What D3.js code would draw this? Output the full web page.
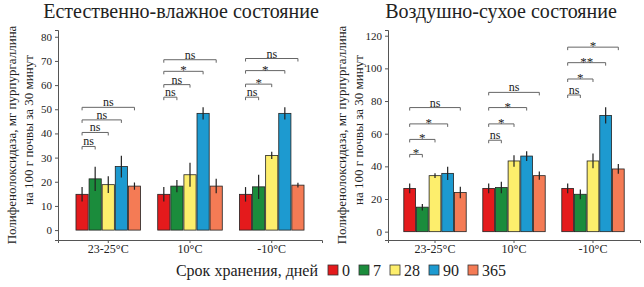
<!DOCTYPE html>
<html>
<head>
<meta charset="utf-8">
<script src="https://cdn.jsdelivr.net/npm/d3@7"></script>
<style>
  body { margin: 0; background: #fff; }
  svg text { fill: #222; }
  .axis path, .axis line { stroke: #555; }
</style>
</head>
<body>
<div id="chart"></div>
<script>
var FONT = "'Liberation Serif', 'Tinos', 'Noto Serif', 'FreeSerif', 'Nimbus Roman', 'DejaVu Serif', 'Liberation Sans'";

// categories
var groups = ["23-25°C", "10°C", "-10°C"];
var days = ["0", "7", "28", "90", "365"];
var colors = ["#e41a1c", "#1b8c3c", "#fdee6c", "#1d9ad0", "#f47b55"];

// естественно-влажное состояние
var wetMeans = [[14.8, 21.2, 18.8, 26.3, 18.2], [14.8, 18.2, 22.9, 48.3, 18.2], [14.8, 17.9, 30.9, 48.3, 18.6]];
var wetErr = [[3, 5, 3.5, 4.5, 1.5], [3, 2.5, 5, 2.5, 3], [3, 5, 1.5, 2.5, 1]];
// brackets: [to-bar, y value, label], always from bar 0
var wetBrackets = [
  [[1, 34.6, "ns"], [2, 40.4, "ns"], [3, 45.6, "ns"], [4, 50.8, "ns"]],
  [[1, 55, "ns"], [2, 60.2, "ns"], [3, 65.7, "*"], [4, 70.5, "ns"]],
  [[1, 55, "ns"], [2, 60.4, "*"], [3, 66, "*"], [4, 71, "ns"]]
];

// воздушно-сухое состояние
var dryMeans = [[26.5, 15, 34.3, 35.7, 24], [26.5, 27, 43.3, 46.3, 34.3], [26.5, 22.9, 43.3, 71.2, 38.4]];
var dryErr = [[3, 2, 1.5, 4, 3.5], [3, 3.5, 3.5, 3, 2.5], [3, 3, 4.5, 5, 3]];
var dryBrackets = [
  [[1, 47.3, "*"], [2, 56.5, "*"], [3, 66, "*"], [4, 76, "ns"]],
  [[1, 56, "ns"], [2, 66, "*"], [3, 76, "*"], [4, 85.3, "ns"]],
  [[1, 83.7, "ns"], [2, 93.5, "*"], [3, 103.5, "**"], [4, 113, "*"]]
];

var wetTicks = [0, 10, 20, 30, 40, 50, 60, 70, 80];
var dryTicks = [0, 20, 40, 60, 80, 100, 120];

var W = 644, H = 287;
var svg = d3.select("#chart").append("svg")
    .attr("width", W)
    .attr("height", H)
    .style("font-family", FONT);

function panel(opt) {
    var x = d3.scaleBand().domain(groups)
        .range([opt.x0, opt.x1])
        .paddingInner(0.21)
        .paddingOuter(opt.po);
    var xi = d3.scaleBand().domain(days)
        .range([0, x.bandwidth()])
        .paddingInner(0.07);
    var y = d3.scaleLinear().domain(opt.yDomain).range([240, 30]);

    var g = svg.append("g");

    // title
    g.append("text")
        .attr("x", opt.titleX)
        .attr("y", 18)
        .attr("text-anchor", "middle")
        .style("font-size", "20px")
        .text(opt.title);

    // y axis label, two lines
    g.append("text")
        .attr("transform", "translate(" + opt.labX + ",135) rotate(-90)")
        .attr("text-anchor", "middle")
        .style("font-size", "13px")
        .text("Полифенолоксидаза, мг пурпургаллина");
    g.append("text")
        .attr("transform", "translate(" + (opt.labX + 17) + ",130) rotate(-90)")
        .attr("text-anchor", "middle")
        .style("font-size", "13px")
        .text("на 100 г почвы за 30 минут");

    // axes
    var ya = g.append("g")
        .attr("class", "axis")
        .attr("transform", "translate(" + opt.x0 + ",0)")
        .call(d3.axisLeft(y).tickValues(opt.ticks).tickSizeOuter(0).tickSize(3));
    ya.attr("font-family", null);
    ya.selectAll("text")
        .style("font-size", "11px")
        .attr("fill", "#333");

    var xa = g.append("g")
        .attr("class", "axis")
        .attr("transform", "translate(0,240)")
        .call(d3.axisBottom(x).tickSizeOuter(0).tickSize(3));
    xa.attr("font-family", null);
    xa.selectAll("text")
        .attr("dy", "0.6em")
        .style("font-size", "12px")
        .attr("fill", "#333");

    groups.forEach(function(grp, gi) {
        var gx = x(grp);
        var rows = days.map(function(d, i) {
            return {day: d, i: i, v: opt.means[gi][i], e: opt.err[gi][i]};
        });

        g.selectAll(".bar" + gi)
            .data(rows)
            .enter().append("rect")
            .attr("x", function(d) { return gx + xi(d.day); })
            .attr("y", function(d) { return y(d.v); })
            .attr("width", xi.bandwidth())
            .attr("height", function(d) { return y(0) - y(d.v); })
            .attr("fill", function(d) { return colors[d.i]; })
            .attr("stroke", "#222")
            .attr("stroke-width", 0.8);

        // error bars
        g.selectAll(".err" + gi)
            .data(rows)
            .enter().append("line")
            .attr("x1", function(d) { return gx + xi(d.day) + xi.bandwidth() / 2; })
            .attr("x2", function(d) { return gx + xi(d.day) + xi.bandwidth() / 2; })
            .attr("y1", function(d) { return y(d.v - d.e); })
            .attr("y2", function(d) { return y(d.v + d.e); })
            .attr("stroke", "#222")
            .attr("stroke-width", 1.2);

        // significance brackets
        var cx = function(i) { return gx + xi(days[i]) + xi.bandwidth() / 2; };
        opt.brackets[gi].forEach(function(b) {
            var yy = y(b[1]);
            g.append("path")
                .attr("d", "M" + cx(0) + "," + (yy + 3) + "V" + yy + "H" + cx(b[0]) + "V" + (yy + 3))
                .attr("fill", "none")
                .attr("stroke", "#666")
                .attr("stroke-width", 1);
            g.append("text")
                .attr("x", (cx(0) + cx(b[0])) / 2)
                .attr("y", b[2] == "ns" ? yy - 1 : yy + 3)
                .attr("text-anchor", "middle")
                .style("font-size", b[2] == "ns" ? "12px" : "13px")
                .text(b[2]);
        });
    });
}

panel({
    x0: 58, x1: 322, po: 0.22,
    yDomain: [-4.1, 82.8], ticks: wetTicks,
    means: wetMeans, err: wetErr, brackets: wetBrackets,
    title: "Естественно-влажное состояние", titleX: 181, labX: 16
});

panel({
    x0: 388, x1: 640, po: 0.2,
    yDomain: [-5.1, 123.5], ticks: dryTicks,
    means: dryMeans, err: dryErr, brackets: dryBrackets,
    title: "Воздушно-сухое состояние", titleX: 501, labX: 346
});

// legend
var legend = svg.append("g").attr("transform", "translate(0,276)");
legend.append("text")
    .attr("x", 318)
    .attr("y", 0)
    .attr("text-anchor", "end")
    .style("font-size", "16px")
    .text("Срок хранения, дней");

var lx = 328;
days.forEach(function(d, i) {
    legend.append("rect")
        .attr("x", lx)
        .attr("y", -11)
        .attr("width", 10)
        .attr("height", 10)
        .attr("fill", colors[i])
        .attr("stroke", "#333")
        .attr("stroke-width", 0.8);
    var t = legend.append("text")
        .attr("x", lx + 14)
        .attr("y", 0)
        .style("font-size", "16px")
        .text(d);
    lx += 14 + t.node().getComputedTextLength() + 9;
});
</script>
</body>
</html>
